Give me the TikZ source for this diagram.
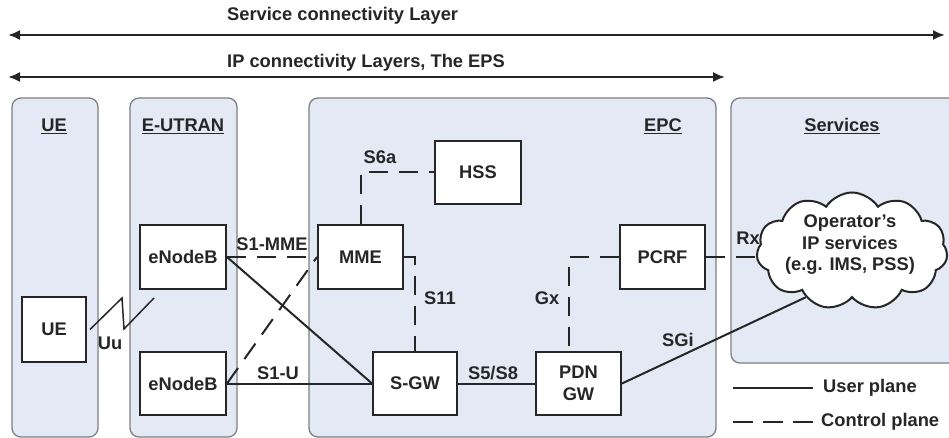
\documentclass[tikz,border=0pt]{standalone}
\usepackage{fontspec}
\setmainfont{Liberation Sans}
\usetikzlibrary{arrows.meta,shapes.symbols}
\definecolor{panelfill}{HTML}{E3EAF5}
\definecolor{panelline}{HTML}{7F7F7F}
\definecolor{ink}{HTML}{262626}
\begin{document}
\begin{tikzpicture}[x=1pt,y=-1pt,
  font=\fontsize{18.3}{21.5}\selectfont\bfseries,
  panel/.style={draw=panelline, line width=1.3pt, fill=panelfill, rounded corners=9pt},
  box/.style={draw=ink, line width=2pt, fill=white, inner sep=0pt, text=ink},
  userline/.style={draw=ink, line width=2pt},
  ctrlline/.style={userline, dash pattern=on 19pt off 11pt},
  lbl/.style={inner sep=0pt, text=ink},
  layerarrow/.style={draw=ink, line width=2pt, {Latex[length=12pt,width=10pt]}-{Latex[length=12pt,width=10pt]}}
]
\useasboundingbox (0,0) rectangle (949,438);
\fill[white] (0,0) rectangle (949,438);

% layer arrows
\node[lbl, anchor=west] (servtxt) at (227,16) {Service connectivity Layer};
\coordinate (sa) at (8,35);
\coordinate (sb) at (945,35);
\draw[layerarrow] (sa) -- (sb);
\node[lbl, anchor=west] (iptxt) at (227,63) {IP connectivity Layers, The EPS};
\coordinate (ia) at (8,77);
\coordinate (ib) at (725,77);
\draw[layerarrow] (ia) -- (ib);

% panels
\path[panel] (12,98) rectangle (98,437);
\path[panel] (130,98) rectangle (237,437);
\path[panel] (309,98) rectangle (716,437);
\path[panel] (731,98) rectangle (960,363);

\node[lbl] (uetitle) at (54,126) {\underline{UE}};
\node[lbl] (eutrantitle) at (183,126) {\underline{E-UTRAN}};
\node[lbl] (epctitle) at (663,126) {\underline{EPC}};
\node[lbl] (servtitle) at (842,126) {\underline{Services}};

% boxes
\node[box, minimum width=64pt, minimum height=65pt] (ue) at (54,329.5) {UE};
\node[box, minimum width=86pt, minimum height=64pt] (enb1) at (183,257) {eNodeB};
\node[box, minimum width=86pt, minimum height=63pt] (enb2) at (183,383.5) {eNodeB};
\node[box, minimum width=85pt, minimum height=64pt] (mme) at (360.5,257) {MME};
\node[box, minimum width=86pt, minimum height=63pt] (hss) at (478,172.5) {HSS};
\node[box, minimum width=85pt, minimum height=64pt] (pcrf) at (662.5,257) {PCRF};
\node[box, minimum width=84pt, minimum height=63pt] (sgw) at (415,383.5) {S-GW};
\node[box, minimum width=85pt, minimum height=63pt, align=center] (pdn) at (578.5,383.5) {PDN\\GW};

% cloud
\node[cloud, cloud puffs=11, cloud puff arc=115, draw=ink, line width=2pt, fill=white, minimum width=191pt, minimum height=117pt, inner sep=0pt] (cloud) at (852,251) {};
\node[lbl, align=center] (cloudtxt) at (850,245) {Operator’s\\IP services\\(e.g. IMS, PSS)};

% connectors
\draw[ctrlline] (mme.north) |- (hss.west);
\draw[ctrlline] (mme.east) -| (sgw.north);
\draw[ctrlline] (pcrf.west) -| ([xshift=-10pt]pdn.north);
\draw[ctrlline] (pcrf.east) -- (pcrf.east -| cloud.west);
\draw[userline] (sgw.east) -- (pdn.west);
\draw[userline] (pdn.east) -- (cloud.225);
\draw[userline] (enb1.east) -- (sgw.west);
\draw[userline] (enb2.east) -- (sgw.west);
\draw[ctrlline] (enb1.east) -- (mme.west);
\draw[ctrlline] (enb2.east) -- (mme.west);

% Uu radio link
\coordinate (uu1) at (122,298);
\coordinate (uu2) at (124,329);
\coordinate (uu3) at (154,298);
\draw[userline, line width=1.5pt] ([xshift=3pt]ue.east) -- (uu1) -- (uu2) -- (uu3);

% interface labels
\node[lbl] (uulbl) at (110,343) {Uu};
\node[lbl] (s1mmelbl) at (272,244) {S1-MME};
\node[lbl] (s1ulbl) at (278,373) {S1-U};
\node[lbl] (s6albl) at (380,157) {S6a};
\node[lbl] (s11lbl) at (440,298) {S11};
\node[lbl] (gxlbl) at (547,298) {Gx};
\node[lbl] (s5lbl) at (493,373) {S5/S8};
\node[lbl] (sgilbl) at (678,340) {SGi};
\node[lbl] (rxlbl) at (748,238) {Rx};

% legend
\coordinate (lu1) at (733,388);
\coordinate (lu2) at (813,388);
\draw[userline] (lu1) -- (lu2);
\node[lbl, anchor=west] (leguser) at (823,388) {User plane};
\coordinate (lc1) at (733,422);
\coordinate (lc2) at (813,422);
\draw[userline, dash pattern=on 20pt off 10pt] (lc1) -- (lc2);
\node[lbl, anchor=west] (legctrl) at (821,422) {Control plane};
\end{tikzpicture}
\end{document}
